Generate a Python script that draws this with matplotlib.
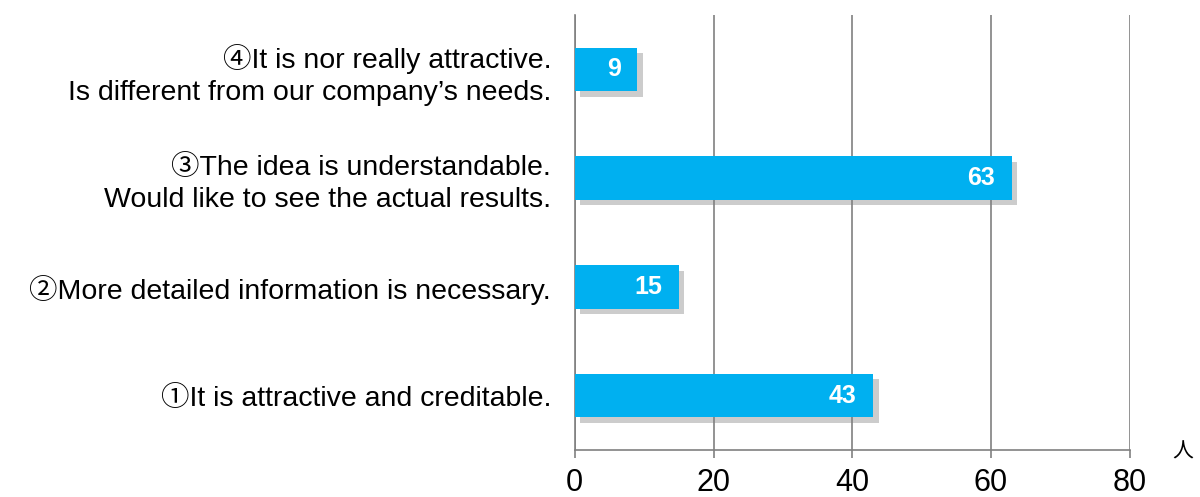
import numpy as np
import matplotlib.pyplot as plt
import matplotlib.patheffects as pe

plt.rcParams['font.family'] = ['Liberation Sans', 'Noto Sans CJK JP', 'DejaVu Sans']

# data (bottom to top)
labels = ['①It is attractive and creditable.',
          '②More detailed information is necessary.',
          '③The idea is understandable.\nWould like to see the actual results.',
          '④It is nor really attractive.\nIs different from our company’s needs.']
values = [43, 15, 63, 9]
xticks = [0, 20, 40, 60, 80]

fig = plt.figure(figsize=(12, 4.97), dpi=100)
ax = fig.add_axes([0.479, 0.0946, 0.4625, 0.875])

ypos = np.arange(len(values))
shadow = [pe.SimplePatchShadow(offset=(4, -4), shadow_rgbFace='#808080', alpha=0.4), pe.Normal()]
bars = ax.barh(ypos, values, height=0.4, color='#00B0F0', zorder=3)
for b in bars:
    b.set_path_effects(shadow)

for y, v in zip(ypos, values):
    ax.annotate(str(v), (v, y), xytext=(-12, 0), textcoords='offset points',
                ha='right', va='center', color='white', fontsize=18,
                fontweight='bold', zorder=4)

ax.set_xlim(0, 80)
ax.set_ylim(-0.5, 3.5)
ax.set_xticks(xticks)
ax.set_xticklabels([str(t) for t in xticks], fontsize=22)
ax.set_yticks(ypos)
ax.set_yticklabels(labels, fontsize=20.5, linespacing=1.3, ha='right')
ax.tick_params(axis='y', length=0, pad=17)
ax.tick_params(axis='x', length=6, color='#808080', width=1.2, pad=7)
ax.xaxis.grid(True, color='#808080', linewidth=1.2, zorder=0)

for s in ['top', 'right']:
    ax.spines[s].set_visible(False)
for s in ['left', 'bottom']:
    ax.spines[s].set_color('#808080')
    ax.spines[s].set_linewidth(1.2)

fig.text(1183 / 1200, 1 - 452 / 497, '人', fontsize=15, ha='center', va='center',
         family=['Noto Sans CJK JP'])

fig.savefig('out.png', dpi=100)
